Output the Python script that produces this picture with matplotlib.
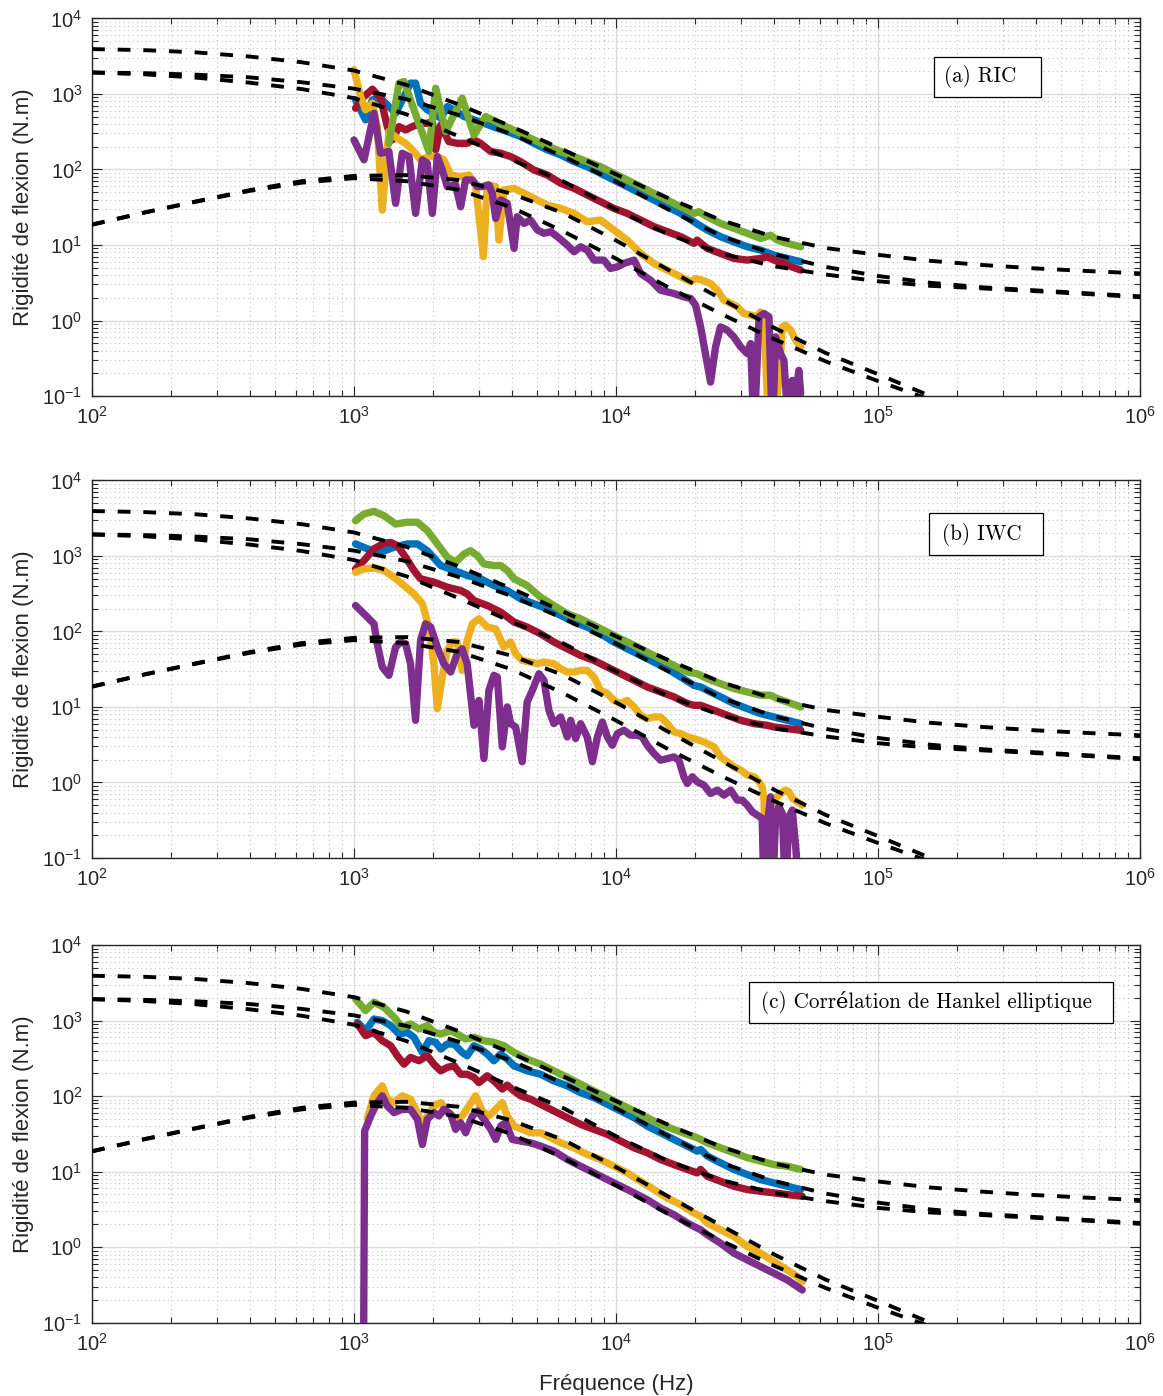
import numpy as np
import matplotlib
matplotlib.use('Agg')
import matplotlib.pyplot as plt
from matplotlib.ticker import LogLocator, NullFormatter
from matplotlib.patches import Rectangle

# ---------------- model curves (dashed) ----------------
model_f = [100, 158.5, 251.2, 398.1, 631, 1000, 1585, 2512, 3981, 6310, 10000,
           15850, 25120, 39810, 63100, 100000, 158500, 251200, 398100, 631000, 1000000]
model_green = [3926, 3802, 3548, 3133, 2630, 2042, 1318, 724, 372, 182, 86.1,
               41.7, 21.4, 12.9, 9.12, 7.41, 6.17, 5.43, 4.90, 4.52, 4.21]
model_blue = [1923, 1884, 1799, 1660, 1429, 1175, 851, 525, 295, 148, 69.2,
              29.5, 13.2, 7.59, 5.13, 3.89, 3.16, 2.75, 2.51, 2.29, 2.09]
model_red = [1923, 1820, 1641, 1413, 1161, 881, 537, 275, 135, 69.2, 29.5,
             13.8, 7.76, 5.25, 4.07, 3.31, 2.88, 2.66, 2.45, 2.24, 2.04]
model_low_f = [100, 158.5, 251.2, 398.1, 631, 1000, 1585, 2512, 3981, 6310, 10000,
               15850, 25120, 39810, 63100, 100000, 158500, 251200]
model_yellow = [18.6, 26.9, 38.0, 53.1, 70.0, 82.2, 84.1, 72.4, 47.9, 26.3, 11.5,
                4.68, 1.95, 0.813, 0.372, 0.195, 0.100, 0.052]
model_purple = [18.6, 26.9, 37.6, 51.9, 66.8, 76.7, 70.0, 53.7, 31.6, 15.1, 6.61,
                2.75, 1.23, 0.575, 0.288, 0.158, 0.089, 0.050]

# ---------------- (a) RIC : (frequency Hz, stiffness N.m) ----------------
ric_blue = [(1014,835),(1107,454),(1175,835),(1264,879),(1359,681),(1442,556),(1552,924),(1644,1390),
            (1718,1390),(1795,755),(1905,615),(2018,556),(2143,477),(2270,681),(2410,615),(2630,502),
            (2871,454),(3133,409),(3524,352),(3846,318),(4325,273),(4864,222),(5470,182),(6152,156),
            (6918,127),(7762,109),(8730,88.9),(9817,72.6),(11040,59.3),(12420,48.3),(13960,39.4),
            (15700,32.1),(17650,26.2),(19840,20.3),(20730,18.4),(22300,15.8),(25060,12.9),(28180,11.0),
            (31700,9.48),(35650,8.56),(40090,7.35),(45080,6.64),(50700,6.00)]
ric_red = [(1014,647),(1076,879),(1175,1156),(1264,879),(1340,370),(1400,246),(1486,370),(1574,334),
           (1671,370),(1795,409),(1905,409),(1991,431),(2051,182),(2143,389),(2301,234),(2477,222),
           (2704,222),(2871,246),(3041,222),(3327,173),(3631,164),(3963,148),(4325,127),(4864,98.4),
           (5470,84.5),(6152,65.6),(6918,56.3),(7762,45.9),(8730,37.5),(9817,30.5),(11040,26.2),
           (12420,21.4),(13960,17.5),(15700,15.0),(17650,12.9),(19840,10.5),(20420,11.6),(22300,9.02),
           (25060,7.73),(28180,6.64),(31700,6.31),(35650,6.64),(37760,6.98),(40090,6.31),(45080,5.41),
           (50700,4.65)]
ric_yellow = [(1000,2090),(1060,924),(1107,615),(1175,755),(1227,370),(1282,29),(1359,318),(1463,259),
              (1574,222),(1671,182),(1795,134),(1932,148),(2080,148),(2203,134),(2339,84.5),(2553,80.4),
              (2748,84.5),(2911,62.4),(3119,6.98),(3228,62.4),(3475,59.3),(3573,11.6),(3733,53.5),
              (4083,56.3),(4457,48.3),(4864,41.5),(5470,33.8),(6152,30.5),(6918,26.2),(7762,20.3),
              (8730,21.4),(9817,15.8),(11040,11.6),(12420,7.73),(13960,5.70),(15700,4.65),(17650,3.79),
              (19270,3.25),(20130,3.60),(21340,3.42),(22960,3.09),(24380,2.52),(25820,1.86),(27420,1.68),
              (29040,1.52),(30760,1.24),(32660,1.18),(34590,1.12),(35650,1.30),(36730,1.01),(38370,0.03),
              (39540,0.03),(41880,0.161),(43150,0.824),(44360,0.867),(46450,0.744),(48530,0.548),
              (50700,0.447)]
ric_purple = [(1000,246),(1092,134),(1192,556),(1264,164),(1359,173),(1442,35.6),(1528,164),(1622,148),
              (1718,26.2),(1824,134),(1905,121),(1991,26.2),(2080,148),(2173,98.4),(2270,59.3),(2443,62.4),
              (2553,32.1),(2667,72.6),(2831,72.6),(2958,59.3),(3090,59.3),(3273,62.4),(3373,48.3),
              (3475,22.5),(3631,39.4),(3846,35.6),(4083,9.02),(4198,23.7),(4457,19.3),(4721,21.4),
              (5012,15.8),(5309,14.3),(5636,15.0),(5970,12.9),(6516,9.98),(6918,8.13),(7328,9.48),
              (7762,8.56),(8241,6.31),(8995,6.31),(9528,4.89),(10120,5.14),(10720,5.70),(11720,6.31),
              (12420,4.20),(13550,3.42),(14790,2.52),(16630,2.28),(18160,2.06),(19270,1.96),(20130,1.60),
              (21040,0.824),(22960,0.153),(23990,0.447),(25060,0.824),(26600,0.744),(28180,0.607),
              (29920,0.447),(31700,0.365),(32660,0.495),(33650,0.03),(35160,1.12),(36730,1.24),
              (38370,1.12),(39540,0.03),(40640,0.607),(42460,0.365),(43750,0.298),(45710,0.03),
              (47100,0.161),(48530,0.108),(49890,0.219),(50700,0.108)]
ric_green = [(1359,222),(1486,1390),(1552,1460),(1932,173),(2051,1190),(2239,318),(2588,879),(2871,287),
             (3177,502),(3475,431),(3793,370),(4325,302),(4864,246),(5470,205),(6152,173),(6918,148),
             (7762,127),(8730,109),(9817,88.9),(11040,72.6),(12420,59.3),(13960,48.3),(15700,39.4),
             (17650,32.1),(19840,26.2),(20730,27.6),(22300,23.7),(25060,19.3),(28180,16.6),(31700,14.3),
             (35650,12.2),(38900,13.5),(41300,11.6),(45080,10.5),(50700,9.48)]

# ---------------- (b) IWC ----------------
iwc_blue = [(1014,1440),(1124,1240),(1264,1120),(1422,1300),(1596,1440),(1746,1440),(1905,1170),
            (2143,745),(2410,640),(2704,550),(3041,497),(3420,405),(3846,348),(4325,270),(4864,232),
            (5470,199),(6152,163),(6918,133),(7762,114),(8730,93.1),(9817,72.3),(11040,58.9),(12420,48.1),
            (13960,39.3),(15700,32.1),(17650,24.9),(19840,19.3),(21040,18.4),(22300,16.6),(25060,13.6),
            (28180,11.1),(31700,9.49),(35650,8.15),(40090,7.37),(45080,6.65),(50700,6.01)]
iwc_red = [(1014,673),(1092,867),(1192,1240),(1301,1470),(1380,1510),(1463,1370),(1574,959),(1694,640),
           (1795,497),(2018,449),(2270,385),(2553,348),(2704,314),(2871,256),(3228,220),(3631,180),
           (4083,133),(4581,114),(5152,93.1),(5794,72.3),(6516,58.9),(7328,48.1),(8241,41.3),(9268,33.7),
           (10420,27.5),(11720,22.5),(13150,18.4),(14790,15.8),(16630,13.6),(18710,11.1),(19840,10.5),
           (21040,10.5),(23660,9.02),(26600,7.75),(29920,6.65),(33650,6.01),(37760,5.71),(40090,5.43),
           (45080,5.16),(50700,4.91)]
iwc_yellow = [(1014,608),(1092,673),(1192,693),(1301,640),(1422,522),(1552,405),(1694,314),(1824,232),
              (1932,114),(2018,37.3),(2080,9.49),(2173,24.9),(2270,56.0),(2371,72.3),(2477,72.3),
              (2588,30.5),(2704,76.0),(2831,126),(2999,147),(3228,114),(3475,108),(3733,62.0),(3963,72.3),
              (4140,50.6),(4385,41.3),(4721,39.3),(5012,37.3),(5309,39.3),(5794,37.3),(6152,32.1),
              (6516,29.0),(6918,29.0),(7328,30.5),(7762,30.5),(8241,24.9),(8730,16.6),(9268,15.0),
              (9817,12.2),(10420,11.1),(11040,12.2),(11720,10.0),(12420,7.75),(13150,7.00),(13960,7.37),
              (14790,7.37),(15700,6.01),(16630,4.67),(17650,4.44),(18710,4.01),(19840,3.81),(21660,3.44),
              (23660,2.96),(25060,2.18),(26600,1.88),(28180,1.61),(29920,1.46),(31700,1.25),(33650,1.19),
              (35160,1.02),(36140,0.875),(36730,0.583),(37580,0.03),(38900,0.03),(40090,0.583),
              (42460,0.714),(44360,0.791),(45710,0.752),(47100,0.614),(49200,0.555),(51400,0.501)]
iwc_purple = [(1014,220),(1092,171),(1192,126),(1227,68.7),(1282,33.7),(1359,26.2),(1442,62.0),(1507,72.3),
              (1574,68.7),(1644,37.3),(1718,6.65),(1795,76.0),(1875,126),(1963,114),(2080,62.0),(2203,37.3),
              (2339,29.0),(2477,50.6),(2588,58.9),(2704,37.3),(2871,5.71),(2999,12.2),(3133,2.07),
              (3273,16.6),(3420,26.2),(3524,24.9),(3681,2.96),(3846,10.0),(3963,6.01),(4140,5.43),
              (4385,1.88),(4581,11.6),(4797,16.6),(5082,27.5),(5309,22.5),(5546,9.02),(5794,6.01),
              (6152,7.37),(6516,4.01),(6714,6.65),(7015,3.81),(7328,6.01),(7762,4.01),(8128,1.88),
              (8492,4.01),(8872,6.32),(9268,4.01),(9683,3.11),(10120,4.44),(10720,4.91),(11380,4.22),
              (12060,4.22),(12590,4.01),(13150,3.11),(13960,2.42),(14790,1.97),(15700,2.07),(16630,2.18),
              (17380,1.97),(18160,1.19),(18710,0.968),(19550,1.19),(20420,1.02),(21660,0.921),
              (22960,0.714),(24380,0.791),(25820,0.679),(27420,0.791),(29040,0.583),(30340,0.583),
              (31700,0.501),(33110,0.409),(34590,0.370),(36140,0.334),(36730,0.03),(37760,0.259),
              (38900,0.646),(39540,0.03),(40640,0.318),(41880,0.477),(43150,0.389),(44360,0.03),
              (45710,0.35),(47100,0.431),(48530,0.141),(49890,0.03)]
iwc_green = [(1014,2930),(1092,3590),(1192,3890),(1301,3410),(1442,2640),(1596,2790),(1746,2790),
             (1905,2160),(2080,1440),(2270,959),(2443,824),(2630,1060),(2786,1170),(2958,1010),(3133,783),
             (3420,745),(3631,745),(3846,640),(4083,497),(4581,405),(5152,284),(5794,220),(6516,171),
             (7328,147),(8241,120),(9268,97.9),(10420,80.0),(11720,65.3),(13150,53.2),(14790,43.5),
             (16630,35.5),(18710,29.0),(20420,27.5),(22300,23.7),(25060,20.3),(28180,17.5),(31700,15.8),
             (35650,14.3),(38900,14.3),(41300,12.9),(45080,11.6),(50700,10.0)]

# ---------------- (c) Hankel ----------------
hank_blue = [(1030,951),(1107,736),(1192,1050),(1282,1000),(1380,859),(1486,665),(1596,700),(1694,601),
             (1824,379),(1932,542),(2051,515),(2143,420),(2270,490),(2410,490),(2588,379),(2704,342),
             (2871,465),(3041,420),(3228,360),(3420,294),(3631,360),(3846,309),(4083,252),(4581,216),
             (5152,195),(5794,159),(6516,137),(7328,111),(8241,95.7),(9268,78.0),(10420,63.6),(11720,51.9),
             (13150,40.2),(14790,32.8),(16630,26.7),(18710,21.8),(20420,18.7),(21040,19.7),(22300,16.1),
             (25060,13.1),(28180,10.7),(31700,9.16),(35650,7.85),(40090,7.09),(45080,6.41),(50700,5.79)]
hank_red = [(1030,903),(1107,632),(1192,700),(1282,542),(1380,465),(1463,342),(1552,265),(1644,326),
            (1770,294),(1905,342),(2018,265),(2143,216),(2270,240),(2410,252),(2553,195),(2704,195),
            (2871,177),(2999,151),(3228,186),(3420,159),(3681,124),(3846,140),(4083,117),(4325,101),
            (4721,91.0),(5152,78.0),(5794,63.6),(6516,51.9),(7328,42.3),(8241,36.3),(9268,31.2),
            (10420,25.4),(11720,20.7),(13150,17.8),(14790,14.5),(16630,12.4),(18710,10.7),(20420,9.64),
            (21040,10.7),(22300,8.70),(25060,7.46),(28180,6.41),(31700,5.79),(35650,5.50),(40090,5.23),
            (45080,4.97),(51400,4.72)]
hank_yellow = [(1124,50),(1192,101),(1282,137),(1340,91.0),(1422,82.1),(1528,101),(1644,91.0),(1746,60.5),
               (1824,40.2),(1905,54.6),(2018,74.1),(2143,82.1),(2270,63.6),(2443,49.3),(2588,54.6),
               (2748,74.1),(2911,101),(3090,63.6),(3273,54.6),(3475,66.9),(3681,82.1),(3846,54.6),
               (4083,40.2),(4385,36.3),(4721,32.8),(5152,32.8),(5470,29.6),(6152,24.1),(6918,20.7),
               (7762,16.9),(8730,14.5),(9817,11.8),(11040,9.64),(12420,7.46),(13960,5.79),(15700,4.48),
               (17650,3.66),(19840,2.83),(21040,2.56),(22300,2.09),(25060,1.70),(28180,1.39),(31700,1.02),
               (35650,0.833),(40090,0.645),(45080,0.500),(49200,0.408),(51400,0.350)]
hank_purple = [(1086,0.01),(1098,34.5),(1158,54.6),(1227,82.1),(1282,101),(1340,74.1),(1422,60.5),
               (1528,66.9),(1644,66.9),(1746,49.3),(1824,22.9),(1905,49.3),(2018,60.5),(2109,54.6),
               (2203,66.9),(2339,57.5),(2443,36.3),(2553,44.5),(2667,32.8),(2831,54.6),(2958,63.6),
               (3133,49.3),(3327,36.3),(3475,26.7),(3631,40.2),(3793,44.5),(4018,26.7),(4325,25.4),
               (4721,24.1),(5152,21.8),(5794,18.7),(6516,14.5),(7328,11.8),(8241,9.64),(9268,7.85),
               (10420,6.41),(11720,5.23),(13150,4.26),(14790,3.30),(16630,2.69),(18710,2.09),(19840,1.88),
               (21040,1.70),(22300,1.46),(25060,1.13),(28180,0.833),(31700,0.679),(35650,0.553),
               (40090,0.452),(45080,0.368),(49200,0.301),(51400,0.271)]
hank_green = [(1014,1940),(1107,1360),(1192,1750),(1301,1500),(1422,1110),(1528,815),(1644,903),(1770,775),
              (1905,859),(2018,700),(2143,665),(2339,736),(2477,665),(2667,571),(2871,601),(3133,542),
              (3420,515),(3733,465),(4083,379),(4581,309),(5152,265),(5794,216),(6516,177),(7328,144),
              (8241,117),(9268,95.7),(10420,78.0),(11720,63.6),(13150,51.9),(14790,42.3),(16630,36.3),
              (18710,31.2),(20420,28.1),(22300,24.1),(25060,20.7),(28180,17.8),(31700,15.3),(35650,13.8),
              (40090,12.4),(45080,11.8),(50700,10.7)]

panel_labels = ['(a) RIC', '(b) IWC', '(c) Corrélation de Hankel elliptique']
x_label = 'Fréquence (Hz)'
y_label = 'Rigidité de flexion (N.m)'

# ---------------- style ----------------
plt.rcParams['font.family'] = ['Liberation Sans', 'DejaVu Sans']
plt.rcParams['mathtext.fontset'] = 'custom'
plt.rcParams['mathtext.rm'] = 'Liberation Sans'
plt.rcParams['mathtext.it'] = 'Liberation Sans:italic'
plt.rcParams['mathtext.bf'] = 'Liberation Sans:bold'

C_BLUE = '#0072BD'
C_RED = '#A2142F'
C_YELLOW = '#EDB120'
C_PURPLE = '#7E2F8E'
C_GREEN = '#77AC30'
AX_COL = '#262626'

fig = plt.figure(figsize=(11.63, 13.96), dpi=100)
left, width, height = 0.0791, 0.9011, 0.2705
bottoms = [0.7163, 0.3854, 0.0525]
boxes = [(0.803, 0.791, 0.906, 0.899, 0.813),
         (0.799, 0.802, 0.907, 0.913, 0.811),
         (0.627, 0.795, 0.974, 0.903, 0.638)]

panels = [
    [ric_blue, ric_red, ric_yellow, ric_purple, ric_green],
    [iwc_blue, iwc_red, iwc_yellow, iwc_purple, iwc_green],
    [hank_blue, hank_red, hank_yellow, hank_purple, hank_green],
]
colors = [C_BLUE, C_RED, C_YELLOW, C_PURPLE, C_GREEN]

for i, (b, series) in enumerate(zip(bottoms, panels)):
    ax = fig.add_axes([left, b, width, height])
    ax.set_xscale('log')
    ax.set_yscale('log')
    ax.set_xlim(1e2, 1e6)
    ax.set_ylim(1e-1, 1e4)
    ax.set_axisbelow(True)

    for data, col in zip(series, colors):
        f = [p[0] for p in data]
        d = [p[1] for p in data]
        ax.plot(f, d, color=col, lw=5.3, solid_joinstyle='round', solid_capstyle='round', zorder=3)

    dash = (0, (3.3, 3.3))
    for mf, md in [(model_f, model_green), (model_f, model_blue), (model_f, model_red),
                   (model_low_f, model_yellow), (model_low_f, model_purple)]:
        ax.plot(mf, md, color='k', lw=2.8, ls=dash, dash_capstyle='butt', zorder=4)

    ax.xaxis.set_major_locator(LogLocator(base=10, numticks=10))
    ax.yaxis.set_major_locator(LogLocator(base=10, numticks=10))
    ax.xaxis.set_minor_locator(LogLocator(base=10, subs=np.arange(2, 10), numticks=20))
    ax.yaxis.set_minor_locator(LogLocator(base=10, subs=np.arange(2, 10), numticks=20))
    ax.xaxis.set_minor_formatter(NullFormatter())
    ax.yaxis.set_minor_formatter(NullFormatter())

    ax.grid(True, which='major', color='#dcdcdc', lw=1.0, ls='-')
    ax.grid(True, which='minor', color='#c4c4c4', lw=0.8, ls=(0, (1, 3)))

    ax.tick_params(which='both', direction='in', top=True, right=True, color=AX_COL,
                   labelcolor=AX_COL, labelsize=14.5, width=0.8)
    ax.tick_params(which='major', length=7, pad=7)
    ax.tick_params(which='minor', length=4)
    for s in ax.spines.values():
        s.set_color(AX_COL)
        s.set_linewidth(1.0)

    ax.set_ylabel(y_label, fontsize=16, color=AX_COL, labelpad=6)
    if i == 2:
        ax.set_xlabel(x_label, fontsize=16, color=AX_COL, labelpad=14)

    x0, y0, x1, y1, tx = boxes[i]
    ax.add_patch(Rectangle((x0, y0), x1 - x0, y1 - y0, transform=ax.transAxes,
                           facecolor='white', edgecolor='k', lw=0.9, zorder=6))
    ax.text(tx, (y0 + y1) / 2, panel_labels[i], transform=ax.transAxes, fontsize=15.2,
            family=['cmr10', 'DejaVu Serif'], va='center', ha='left', color='k', zorder=7)

fig.savefig('out.png', dpi=100)
